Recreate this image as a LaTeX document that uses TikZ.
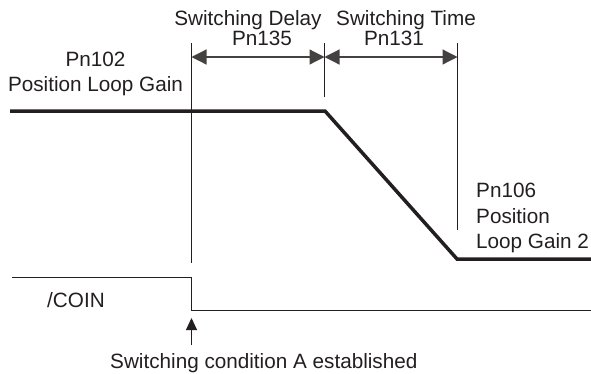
\documentclass[tikz,border=0pt]{standalone}
\usepackage{fontspec}
\setmainfont{Liberation Sans}
\usetikzlibrary{arrows.meta}
\definecolor{ink}{HTML}{231F20}
\begin{document}
\begin{tikzpicture}[x=1pt,y=-1pt,
  txt/.style={font=\fontsize{20.7}{22}\selectfont, inner sep=0pt, text=ink},
  guide/.style={draw=ink, line width=1pt},
  dim/.style={draw=ink!85, line width=1.2pt, {Triangle[length=15pt,width=15pt]}-{Triangle[length=15pt,width=15pt]}},
  gain/.style={draw=ink, line width=3.5pt, line join=miter},
  sig/.style={draw=ink, line width=1pt},
  up/.style={draw=ink, line width=1pt, -{Triangle[length=12pt,width=11pt]}}]
\useasboundingbox (0,0) rectangle (591,373);
% guide lines
\coordinate (v1t) at (191.5,43); \coordinate (v1b) at (191.5,263);
\coordinate (v2t) at (324.5,43); \coordinate (v2b) at (324.5,97);
\coordinate (v3t) at (457.5,43); \coordinate (v3b) at (457.5,230);
\draw[guide] (v1t) -- (v1b);
\draw[guide] (v2t) -- (v2b);
\draw[guide] (v3t) -- (v3b);
% dimension arrows
\coordinate (d1) at (191.5,57); \coordinate (d2) at (324.5,57); \coordinate (d3) at (457.5,57);
\draw[dim] (d1) -- (d2);
\draw[dim] (d2) -- (d3);
% gain curve
\coordinate (g0) at (10,111); \coordinate (g1) at (325,111);
\coordinate (g2) at (457,259); \coordinate (g3) at (591,259);
\draw[gain] (g0) -- (g1) -- (g2) -- (g3);
% COIN signal
\coordinate (c0) at (12,277); \coordinate (c1) at (191.5,277);
\coordinate (c2) at (191.5,310); \coordinate (c3) at (591,310);
\draw[sig] (c0) -- (c1) -- (c2) -- (c3);
% switching arrow
\coordinate (a0) at (191.5,345); \coordinate (a1) at (191.5,318);
\draw[up] (a0) -- (a1);
% texts
\node[txt, anchor=base] (sd) at (248,25) {Switching Delay};
\node[txt, anchor=base] (p135) at (262,45) {Pn135};
\node[txt, anchor=base] (st) at (406,25) {Switching Time};
\node[txt, anchor=base] (p131) at (394,45) {Pn131};
\node[txt, anchor=base] (p102) at (95.5,66) {Pn102};
\node[txt, anchor=base] (plg) at (95.5,91) {Position Loop Gain};
\node[txt, anchor=base west] (p106) at (476,197) {Pn106};
\node[txt, anchor=base west] (pos) at (476,223) {Position};
\node[txt, anchor=base west] (lg2) at (476,248) {Loop Gain 2};
\node[txt, anchor=base west] (coin) at (47,307) {/COIN};
\node[txt, anchor=base west] (sca) at (110,368) {Switching condition A established};
\end{tikzpicture}
\end{document}
